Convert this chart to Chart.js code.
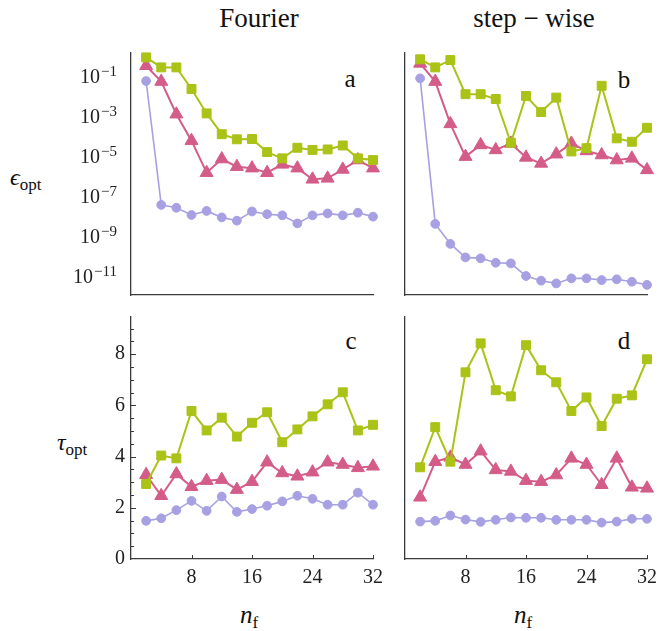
<!DOCTYPE html>
<html>
<head>
<meta charset="utf-8">
<script src="https://cdn.jsdelivr.net/npm/chart.js@4.4.0/dist/chart.umd.min.js"></script>
<style>
body{margin:0;background:#fff;width:660px;height:631px;position:relative;overflow:hidden;font-family:"Liberation Serif","DejaVu Serif",serif;color:#111}
canvas{position:absolute}
.t{position:absolute;line-height:1;white-space:nowrap}
.c{transform:translateX(-50%)}
.m{font-style:italic}
.sb{font-size:17px;position:relative;top:5px;font-style:normal}
</style>
</head>
<body>
<div class="t c" style="left:259px;top:5px;font-size:27px">Fourier</div>
<div class="t c" style="left:534px;top:5px;font-size:27px">step − wise</div>
<div class="t c" style="left:350px;top:66px;font-size:25px">a</div>
<div class="t c" style="left:624px;top:67px;font-size:25px">b</div>
<div class="t c" style="left:351px;top:328px;font-size:25px">c</div>
<div class="t c" style="left:624px;top:328px;font-size:25px">d</div>
<div class="t" style="left:10px;top:165px;font-size:24px"><span class="m">ϵ</span><span class="sb">opt</span></div>
<div class="t" style="left:57px;top:430px;font-size:24px"><span class="m">τ</span><span class="sb">opt</span></div>
<div class="t" style="left:240px;top:602px;font-size:25px"><span class="m">n</span><span class="sb">f</span></div>
<div class="t" style="left:514px;top:602px;font-size:25px"><span class="m">n</span><span class="sb">f</span></div>
<canvas id="pa"></canvas>
<canvas id="pb"></canvas>
<canvas id="pc"></canvas>
<canvas id="pd"></canvas>
<script>
// n_f values on the x axis
const NF = [2, 4, 6, 8, 10, 12, 14, 16, 18, 20, 22, 24, 26, 28, 30, 32];
const X_TICKS = [8, 16, 24, 32];
const TAU_TICKS = [0, 2, 4, 6, 8];
const EPS_TICKS = [1e-1, 1e-3, 1e-5, 1e-7, 1e-9, 1e-11];
const EPS_EXP = ['−1', '−3', '−5', '−7', '−9', '−11'];

// panel a : Fourier, eps_opt
const fourierEpsSq  = [0.76, 0.24, 0.24, 2.0e-2, 1.2e-3, 1.1e-4, 6.1e-5, 6.3e-5, 1.4e-5, 6.8e-6, 2.3e-5, 1.8e-5, 1.9e-5, 3.0e-5, 6.8e-6, 5.6e-6];
const fourierEpsTri = [0.29, 4.7e-2, 1.1e-3, 5.2e-5, 1.3e-6, 6.3e-6, 2.6e-6, 2.2e-6, 1.3e-6, 3.4e-6, 2.2e-6, 6.1e-7, 6.8e-7, 1.9e-6, 5.6e-6, 2.2e-6];
const fourierEpsCir = [5.0e-2, 3.2e-8, 2.3e-8, 1.0e-8, 1.6e-8, 7.6e-9, 5.2e-9, 1.5e-8, 1.1e-8, 9.6e-9, 3.8e-9, 9.6e-9, 1.2e-8, 9.6e-9, 1.3e-8, 8.3e-9];
// panel b : step-wise, eps_opt
const stepEpsSq  = [0.61, 0.24, 0.56, 1.1e-2, 1.1e-2, 6.3e-3, 4.1e-5, 8.9e-3, 1.4e-3, 7.4e-3, 1.5e-5, 2.2e-5, 2.9e-2, 6.8e-5, 4.6e-5, 2.3e-4];
const stepEpsTri = [0.38, 4.7e-2, 3.6e-4, 8.3e-6, 3.2e-5, 1.8e-5, 3.8e-5, 7.6e-6, 3.8e-6, 1.1e-5, 3.8e-5, 1.6e-5, 1.0e-5, 5.6e-6, 6.8e-6, 1.8e-6];
const stepEpsCir = [6.8e-2, 3.6e-9, 3.6e-10, 7.6e-11, 6.8e-11, 4.1e-11, 3.8e-11, 8.9e-12, 5.2e-12, 3.8e-12, 6.8e-12, 6.8e-12, 5.6e-12, 6.1e-12, 4.6e-12, 3.2e-12];
// panel c : Fourier, tau_opt
const fourierTauSq  = [2.93, 4.04, 3.93, 5.78, 5.02, 5.52, 4.78, 5.32, 5.73, 4.56, 5.06, 5.57, 6.04, 6.51, 5.02, 5.24];
const fourierTauTri = [3.29, 2.47, 3.32, 2.82, 3.06, 3.10, 2.71, 3.02, 3.78, 3.36, 3.23, 3.39, 3.78, 3.69, 3.56, 3.62];
const fourierTauCir = [1.49, 1.59, 1.91, 2.27, 1.88, 2.44, 1.84, 1.95, 2.08, 2.25, 2.47, 2.35, 2.12, 2.12, 2.59, 2.12];
// panel d : step-wise, tau_opt
const stepTauSq  = [3.58, 5.15, 3.80, 7.29, 8.42, 6.59, 6.35, 8.35, 7.37, 6.90, 5.78, 6.31, 5.19, 6.26, 6.39, 7.80];
const stepTauTri = [2.41, 3.80, 3.97, 3.69, 4.21, 3.48, 3.42, 3.06, 3.02, 3.28, 3.93, 3.69, 2.90, 3.93, 2.80, 2.76];
const stepTauCir = [1.46, 1.49, 1.70, 1.54, 1.45, 1.53, 1.62, 1.61, 1.61, 1.53, 1.53, 1.53, 1.42, 1.46, 1.57, 1.57];

const GREEN = '#abc216';
const PINK = '#d45c88';
const PURPLE = '#a7a0e2';
const AXIS = '#3a3a3a';
const FONT = '"Liberation Serif", "DejaVu Serif", serif';

// extra axis drawing: inward tick marks and 10^k labels
const axisDeco = {
  id: 'axisDeco',
  afterDraw(chart, args, o) {
    const {ctx, chartArea: {left, bottom}, scales: {x, y}} = chart;
    ctx.save();
    ctx.strokeStyle = AXIS;
    ctx.lineWidth = 1;
    ctx.beginPath();
    (o.yMajor || []).forEach(v => {
      const py = Math.round(y.getPixelForValue(v)) + 0.5;
      ctx.moveTo(left, py); ctx.lineTo(left + 5, py);
    });
    (o.yMinor || []).forEach(v => {
      const py = Math.round(y.getPixelForValue(v)) + 0.5;
      ctx.moveTo(left, py); ctx.lineTo(left + 3, py);
    });
    (o.xMajor || []).forEach(v => {
      const px = Math.round(x.getPixelForValue(v)) + 0.5;
      ctx.moveTo(px, bottom); ctx.lineTo(px, bottom - 4);
    });
    ctx.stroke();
    if (o.expLabels) {
      ctx.fillStyle = '#222';
      ctx.textAlign = 'left';
      ctx.textBaseline = 'alphabetic';
      EPS_TICKS.forEach((v, i) => {
        const py = y.getPixelForValue(v);
        ctx.font = '15px ' + FONT;
        const ew = ctx.measureText(EPS_EXP[i]).width;
        ctx.font = '20px ' + FONT;
        const bw = ctx.measureText('10').width;
        const xr = left - 14;
        ctx.fillText('10', xr - ew - bw - 1, py + 8);
        ctx.font = '15px ' + FONT;
        ctx.fillText(EPS_EXP[i], xr - ew, py + 1);
      });
    }
    ctx.restore();
  }
};

function pts(vals) {
  return NF.map((n, i) => ({x: n, y: vals[i]}));
}

function series(sq, tri, cir) {
  return [
    {data: pts(sq), borderColor: GREEN, backgroundColor: GREEN, borderWidth: 2,
     pointStyle: 'rect', pointRadius: 6.3, pointBorderWidth: 1, clip: false},
    {data: pts(tri), borderColor: PINK, backgroundColor: PINK, borderWidth: 2,
     pointStyle: 'triangle', pointRadius: 7.5, pointBorderWidth: 1, clip: false},
    {data: pts(cir), borderColor: PURPLE, backgroundColor: PURPLE, borderWidth: 1.6,
     pointStyle: 'circle', pointRadius: 4.4, pointBorderWidth: 1, clip: false}
  ];
}

function makePanel(id, L, T, datasets, yScale, showX, deco) {
  const cv = document.getElementById(id);
  cv.width = 324; cv.height = 292;
  cv.style.left = (L - 70) + 'px';
  cv.style.top = (T - 10) + 'px';
  new Chart(cv, {
    type: 'line',
    data: {datasets: datasets},
    options: {
      responsive: false,
      animation: false,
      devicePixelRatio: 1,
      layout: {padding: {left: 0, top: 10, right: 12, bottom: 0}},
      elements: {line: {tension: 0}},
      plugins: {legend: {display: false}, tooltip: {enabled: false}, axisDeco: deco},
      scales: {
        x: {
          type: 'linear', min: 0, max: 32,
          grid: {display: false, drawTicks: false},
          border: {display: true, color: AXIS, width: 1.3},
          afterBuildTicks: s => { s.ticks = X_TICKS.map(v => ({value: v})); },
          afterFit: s => { s.height = 40; s.paddingLeft = 0; s.paddingRight = 0; },
          ticks: {display: showX, padding: 7, color: '#222', font: {family: FONT, size: 20}, maxRotation: 0}
        },
        y: Object.assign({
          grid: {display: false, drawTicks: false},
          border: {display: true, color: AXIS, width: 1.3},
          afterFit: s => { s.width = 70; s.paddingTop = 0; s.paddingBottom = 0; }
        }, yScale)
      }
    },
    plugins: [axisDeco]
  });
}

const logY = {
  type: 'logarithmic', min: 1e-12, max: 1.26,
  ticks: {display: false}
};
const tauY = (show) => ({
  type: 'linear', min: 0, max: 9.45,
  afterBuildTicks: s => { s.ticks = TAU_TICKS.map(v => ({value: v})); },
  ticks: {display: show, padding: 6, color: '#222', font: {family: FONT, size: 20}}
});

const tauMinor = [];
for (let v = 0.5; v < 9.45; v += 0.5) if (v % 2 !== 0) tauMinor.push(v);

makePanel('pa', 131, 53, series(fourierEpsSq, fourierEpsTri, fourierEpsCir), logY, false, {expLabels: true});
makePanel('pb', 405, 53, series(stepEpsSq, stepEpsTri, stepEpsCir), logY, false, {});
makePanel('pc', 131, 317, series(fourierTauSq, fourierTauTri, fourierTauCir), tauY(true), true,
  {yMajor: TAU_TICKS.slice(1), yMinor: tauMinor, xMajor: X_TICKS});
makePanel('pd', 405, 317, series(stepTauSq, stepTauTri, stepTauCir), tauY(false), true,
  {xMajor: X_TICKS});
</script>
</body>
</html>
